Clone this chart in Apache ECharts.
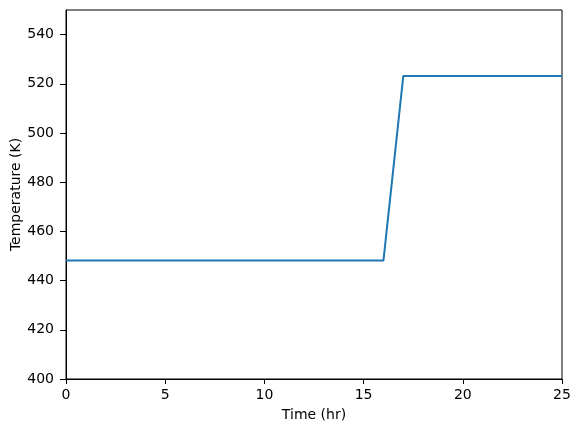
<!DOCTYPE html>
<html>
<head>
<meta charset="utf-8">
<script src="https://cdn.jsdelivr.net/npm/echarts@6/dist/echarts.min.js"></script>
<style>
  html, body { margin: 0; padding: 0; background: #fff; }
  #chart { width: 580px; height: 432px; }
</style>
</head>
<body>
<div id="chart"></div>
<script>
// time (hr) and reactor temperature (K)
const timeHr = [0, 16, 17, 25]
const tempK = [448.15, 448.15, 523.15, 523.15]
const xTicks = [0, 5, 10, 15, 20, 25]
const yTicks = [400, 420, 440, 460, 480, 500, 520, 540]

const font = 'DejaVu Sans, sans-serif'
const chart = echarts.init(document.getElementById('chart'), null, { renderer: 'canvas' })

const axisCommon = {
    axisLine: { show: true, onZero: false, lineStyle: { color: '#000', width: 1 } },
    axisTick: { show: true, length: 5, lineStyle: { color: '#000', width: 1 } },
    axisLabel: { color: '#000', fontFamily: font, fontSize: 14, margin: 9 },
    splitLine: { show: false },
    nameTextStyle: { color: '#000', fontFamily: font, fontSize: 14 },
    nameMoveOverlap: false,
}

chart.setOption({
    animation: false,
    backgroundColor: '#fff',
    grid: {
        left: 66, right: 18, top: 10, bottom: 53,
        outerBoundsMode: 'none',
        containLabel: false,
        show: true, borderColor: '#000', borderWidth: 1,
    },
    xAxis: {
        ...axisCommon,
        type: 'value',
        min: xTicks[0],
        max: xTicks[xTicks.length - 1],
        interval: 5,
        name: 'Time (hr)',
        nameLocation: 'middle',
        nameGap: 29,
    },
    yAxis: {
        ...axisCommon,
        type: 'value',
        min: 400,
        max: 550,
        interval: 20,
        name: 'Temperature (K)',
        nameLocation: 'middle',
        nameGap: 43,
        axisTick: { ...axisCommon.axisTick, length: 6, customValues: yTicks },
        axisLabel: { ...axisCommon.axisLabel, margin: 12, customValues: yTicks },
    },
    series: [{
        type: 'line',
        data: timeHr.map((t, i) => [t, tempK[i]]),
        showSymbol: false,
        lineStyle: { color: '#1f77b4', width: 2 },
        itemStyle: { color: '#1f77b4' },
    }],
})
</script>
</body>
</html>
